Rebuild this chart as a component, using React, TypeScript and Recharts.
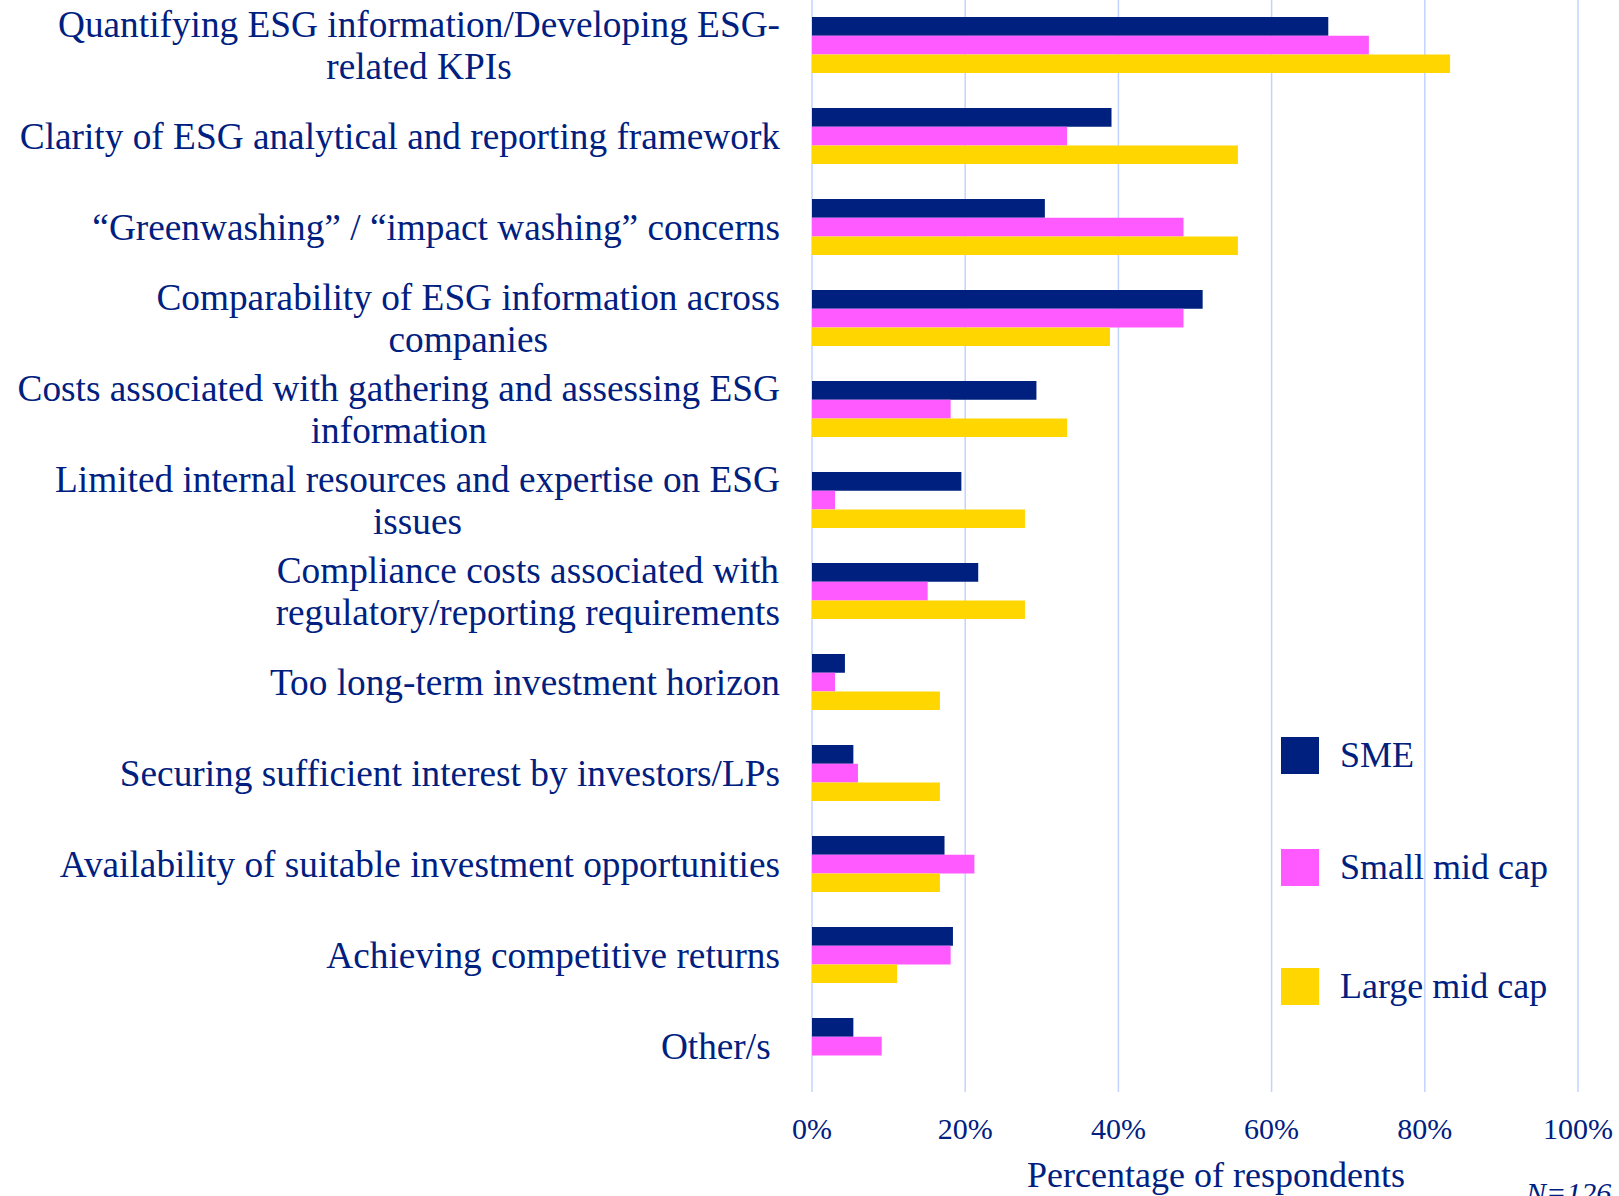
import React from 'react';
import { BarChart, Bar, XAxis, YAxis, CartesianGrid } from 'recharts';

const categories = [
  'Quantifying ESG information/Developing ESG-\nrelated KPIs',
  'Clarity of ESG analytical and reporting framework',
  '\u201CGreenwashing\u201D / \u201Cimpact washing\u201D concerns',
  'Comparability of ESG information across\ncompanies',
  'Costs associated with gathering and assessing ESG\ninformation',
  'Limited internal resources and expertise on ESG\nissues',
  'Compliance costs associated with\nregulatory/reporting requirements',
  'Too long-term investment horizon',
  'Securing sufficient interest by investors/LPs',
  'Availability of suitable investment opportunities',
  'Achieving competitive returns',
  'Other/s\u00A0',
];

const smeValues = [67.4, 39.1, 30.4, 51.0, 29.3, 19.5, 21.7, 4.3, 5.4, 17.3, 18.4, 5.4];
const smallMidValues = [72.7, 33.3, 48.5, 48.5, 18.1, 3.0, 15.1, 3.0, 6.0, 21.2, 18.1, 9.1];
const largeMidValues = [83.3, 55.6, 55.6, 38.9, 33.3, 27.8, 27.8, 16.7, 16.7, 16.7, 11.1, 0];

const xTicks = [0, 20, 40, 60, 80, 100];

const seriesNames = ['SME', 'Small mid cap', 'Large mid cap'];
const seriesColors = ['#00207F', '#FF5AFF', '#FFD600'];

const data = categories.map((name, i) => ({
  name,
  sme: smeValues[i],
  smallMid: smallMidValues[i],
  largeMid: largeMidValues[i],
}));

const FONT = "'Liberation Serif', 'Times New Roman', serif";
const TEXT_COLOR = '#00207F';
const LABEL_SIZE = 37.3;

let ctx: CanvasRenderingContext2D | null = null;
function measure(text: string, size: number): number {
  if (!ctx) {
    const c = document.createElement('canvas');
    ctx = c.getContext('2d');
  }
  if (!ctx) return text.length * size * 0.45;
  ctx.font = `${size}px ${FONT}`;
  return ctx.measureText(text).width;
}

const CategoryTick = (props: any) => {
  const { x, y, payload } = props;
  const lines = String(payload.value).split('\n');
  const widths = lines.map((l) => measure(l, LABEL_SIZE));
  const maxW = Math.max(...widths);
  const cx = x - maxW / 2;
  const lh = 42.5;
  const startY = y - ((lines.length - 1) * lh) / 2;
  return (
    <g>
      {lines.map((l, i) => (
        <text
          key={i}
          x={cx}
          y={startY + i * lh}
          textAnchor="middle"
          dominantBaseline="central"
          fill={TEXT_COLOR}
          fontFamily={FONT}
          fontSize={LABEL_SIZE}
          style={{ whiteSpace: 'pre' }}
        >
          {l}
        </text>
      ))}
    </g>
  );
};

const PercentTick = (props: any) => {
  const { x, y, payload } = props;
  return (
    <text x={x} y={y + 47} textAnchor="middle" fill={TEXT_COLOR} fontFamily={FONT} fontSize={30}>
      {`${payload.value}%`}
    </text>
  );
};

const AxisTitle = (props: any) => {
  const vb = props.viewBox || {};
  const cx = vb.x + vb.width / 2 + 21;
  return (
    <g>
      <text x={cx} y={vb.y + 95} textAnchor="middle" fill={TEXT_COLOR} fontFamily={FONT} fontSize={36}>
        Percentage of respondents
      </text>
      <text x={vb.x + vb.width - 52} y={vb.y + 111} textAnchor="start" fill={TEXT_COLOR} fontFamily={FONT} fontSize={30} fontStyle="italic">
        N=126
      </text>
    </g>
  );
};

const legendOffsets = [0, 112, 231];

const LegendBox = () => (
  <div style={{ position: 'absolute', left: 1281, top: 737, width: 300, height: 280 }}>
    {seriesNames.map((n, i) => (
      <div
        key={n}
        style={{ position: 'absolute', left: 0, top: legendOffsets[i], display: 'flex', alignItems: 'center', height: 37 }}
      >
        <div style={{ width: 38, height: 37, background: seriesColors[i] }} />
        <span style={{ marginLeft: 21, fontFamily: FONT, fontSize: 36, color: TEXT_COLOR, lineHeight: '37px', whiteSpace: 'nowrap' }}>
          {n}
        </span>
      </div>
    ))}
  </div>
);

export default function App() {
  return (
    <div style={{ position: 'absolute', left: 0, top: 0, width: 1619, height: 1196, background: '#fff', overflow: 'hidden' }}>
      <BarChart
        width={1619}
        height={1196}
        data={data}
        layout="vertical"
        margin={{ top: 0, right: 41, bottom: 0, left: 0 }}
        barGap={0}
        barSize={18.7}
      >
        <CartesianGrid horizontal={false} stroke="#C3D3FF" strokeWidth={1.5} />
        <XAxis
          type="number"
          domain={[0, 100]}
          ticks={xTicks}
          axisLine={false}
          tickLine={false}
          tickSize={0}
          tickMargin={0}
          height={104}
          tick={<PercentTick />}
          label={<AxisTitle />}
          interval={0}
        />
        <YAxis
          type="category"
          dataKey="name"
          width={812}
          axisLine={false}
          tickLine={false}
          tickSize={0}
          tickMargin={32}
          tick={<CategoryTick />}
          interval={0}
        />
        <Bar dataKey="sme" name={seriesNames[0]} fill={seriesColors[0]} isAnimationActive={false} />
        <Bar dataKey="smallMid" name={seriesNames[1]} fill={seriesColors[1]} isAnimationActive={false} />
        <Bar dataKey="largeMid" name={seriesNames[2]} fill={seriesColors[2]} isAnimationActive={false} />
      </BarChart>
      <LegendBox />
    </div>
  );
}
